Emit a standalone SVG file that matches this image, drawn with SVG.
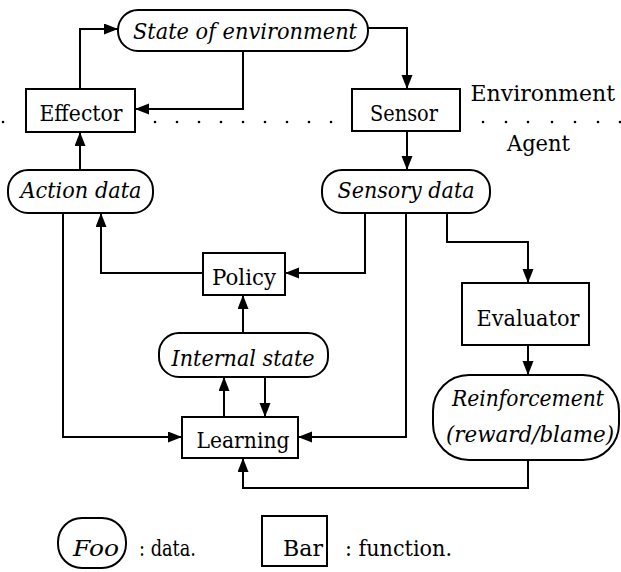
<svg xmlns="http://www.w3.org/2000/svg" width="621" height="572" viewBox="0 0 621 572">
  <style>
    .box { fill: #fff; stroke: #000; stroke-width: 2; }
    .wire { fill: none; stroke: #000; stroke-width: 2; }
    text { font-family: "DejaVu Serif", "Liberation Serif", "Noto Serif", serif; font-size: 22px; fill: #000; }
    .rm { text-anchor: middle; }
    .it { font-style: italic; text-anchor: middle; }
    .dot { fill: #000; }
  </style>
  <defs>
    <marker id="arrow" markerUnits="userSpaceOnUse" markerWidth="15" markerHeight="12" refX="14" refY="5.5" orient="auto">
      <path d="M0,0 L14,5.5 L0,11 z" fill="#000"/>
    </marker>
  </defs>

  <!-- environment / agent boundary -->
  <g id="boundary">
    <g class="dot">
      <circle cx="3" cy="122" r="1.3"/>
      <circle cx="30" cy="126" r="1.3"/>
      <circle cx="134" cy="121" r="1.3"/>
      <circle cx="155" cy="122" r="1.3"/>
      <circle cx="177" cy="122" r="1.3"/>
      <circle cx="199" cy="122" r="1.3"/>
      <circle cx="221" cy="122" r="1.3"/>
      <circle cx="243" cy="122" r="1.3"/>
      <circle cx="265" cy="122" r="1.3"/>
      <circle cx="287" cy="122" r="1.3"/>
      <circle cx="309" cy="122" r="1.3"/>
      <circle cx="331" cy="122" r="1.3"/>
      <circle cx="354" cy="122" r="1.3"/>
      <circle cx="459" cy="122" r="1.3"/>
      <circle cx="483" cy="122" r="1.3"/>
      <circle cx="506" cy="122" r="1.3"/>
      <circle cx="528" cy="122" r="1.3"/>
      <circle cx="552" cy="122" r="1.3"/>
      <circle cx="575" cy="122" r="1.3"/>
      <circle cx="598" cy="122" r="1.3"/>
      <circle cx="620" cy="122" r="1.3"/>
    </g>
    <text x="615" y="101" font-size="19" text-anchor="end">Environment</text>
    <text x="507" y="151" textLength="63" lengthAdjust="spacingAndGlyphs">Agent</text>
  </g>

  <!-- connectors -->
  <g id="connectors">
    <polyline class="wire" points="80,89 80,29 118,29" marker-end="url(#arrow)"/>
    <polyline class="wire" points="368,28 407,28 407,89" marker-end="url(#arrow)"/>
    <polyline class="wire" points="243,51 243,109 135,109" marker-end="url(#arrow)"/>
    <polyline class="wire" points="80,170 80,132" marker-end="url(#arrow)"/>
    <polyline class="wire" points="407,131 407,170" marker-end="url(#arrow)"/>
    <polyline class="wire" points="203,273 101,273 101,213" marker-end="url(#arrow)"/>
    <polyline class="wire" points="365,213 365,273 285,273" marker-end="url(#arrow)"/>
    <polyline class="wire" points="243,333 243,295" marker-end="url(#arrow)"/>
    <polyline class="wire" points="224,417 224,377" marker-end="url(#arrow)"/>
    <polyline class="wire" points="265,377 265,417" marker-end="url(#arrow)"/>
    <polyline class="wire" points="63,213 63,437 182,437" marker-end="url(#arrow)"/>
    <polyline class="wire" points="406,213 406,437 298,437" marker-end="url(#arrow)"/>
    <polyline class="wire" points="447,213 447,242 528,242 528,283" marker-end="url(#arrow)"/>
    <polyline class="wire" points="528,345 528,375" marker-end="url(#arrow)"/>
    <polyline class="wire" points="528,460 528,488 243,488 243,458" marker-end="url(#arrow)"/>
  </g>

  <g id="state-of-environment">
    <rect class="box" x="118" y="10" width="250" height="41" rx="20" ry="20"/>
    <text class="it" x="245" y="39" textLength="224" lengthAdjust="spacingAndGlyphs">State of environment</text>
  </g>

  <g id="effector">
    <rect class="box" x="26" y="89" width="109" height="43"/>
    <text class="rm" x="81" y="121" textLength="83" lengthAdjust="spacingAndGlyphs">Effector</text>
  </g>

  <g id="sensor">
    <rect class="box" x="352" y="89" width="108" height="42"/>
    <text class="rm" x="404" y="121" textLength="68" lengthAdjust="spacingAndGlyphs">Sensor</text>
  </g>

  <g id="action-data">
    <rect class="box" x="8" y="170" width="145" height="43" rx="20" ry="20"/>
    <text class="it" x="81" y="198" textLength="121" lengthAdjust="spacingAndGlyphs">Action data</text>
  </g>

  <g id="sensory-data">
    <rect class="box" x="322" y="170" width="168" height="43" rx="20" ry="20"/>
    <text class="it" x="406" y="198" textLength="137" lengthAdjust="spacingAndGlyphs">Sensory data</text>
  </g>

  <g id="policy">
    <rect class="box" x="203" y="253" width="82" height="42"/>
    <text class="rm" x="244" y="285" textLength="64" lengthAdjust="spacingAndGlyphs">Policy</text>
  </g>

  <g id="internal-state">
    <rect class="box" x="159" y="333" width="169" height="44" rx="20" ry="20"/>
    <text class="it" x="243" y="366" textLength="143" lengthAdjust="spacingAndGlyphs">Internal state</text>
  </g>

  <g id="evaluator">
    <rect class="box" x="462" y="283" width="127" height="62"/>
    <text class="rm" x="528" y="326" textLength="103" lengthAdjust="spacingAndGlyphs">Evaluator</text>
  </g>

  <g id="reinforcement">
    <rect class="box" x="433" y="375" width="186" height="85" rx="36" ry="36"/>
    <text class="it" x="528" y="406" font-size="20.5" textLength="152" lengthAdjust="spacingAndGlyphs">Reinforcement</text>
    <text class="it" x="530" y="442" font-size="21" textLength="168" lengthAdjust="spacingAndGlyphs">(reward/blame)</text>
  </g>

  <g id="learning">
    <rect class="box" x="182" y="417" width="116" height="41"/>
    <text class="rm" x="243" y="448" textLength="93" lengthAdjust="spacingAndGlyphs">Learning</text>
  </g>

  <!-- legend -->
  <g id="legend">
    <rect class="box" x="58" y="518" width="68" height="50" rx="24" ry="24"/>
    <text class="it" x="96" y="556" textLength="46" lengthAdjust="spacingAndGlyphs">Foo</text>
    <text x="139" y="556" textLength="57" lengthAdjust="spacingAndGlyphs">: data.</text>
    <rect class="box" x="262" y="516" width="65" height="50"/>
    <text class="rm" x="303" y="556" textLength="40" lengthAdjust="spacingAndGlyphs">Bar</text>
    <text x="345" y="556" textLength="107" lengthAdjust="spacingAndGlyphs">: function.</text>
  </g>
</svg>
